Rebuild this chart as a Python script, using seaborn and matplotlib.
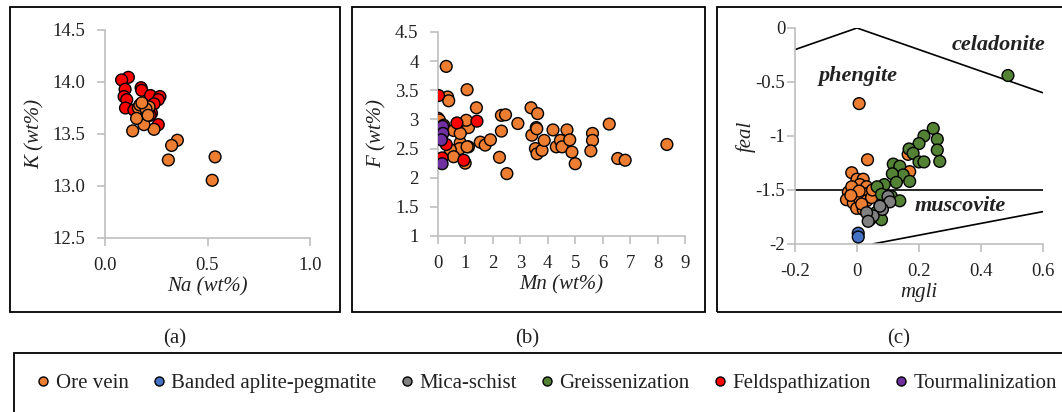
import matplotlib
matplotlib.use('Agg')
import matplotlib.pyplot as plt
from matplotlib.lines import Line2D
from matplotlib.patches import Rectangle
import seaborn as sns
import pandas as pd

# ---- data ----
groups = ['Ore vein', 'Banded aplite-pegmatite', 'Mica-schist',
          'Greissenization', 'Feldspathization', 'Tourmalinization']
colors = ['#ED7D31', '#4472C4', '#808080', '#548235', '#FF0000', '#7030A0']

# (a) Na vs K
a_feld_na = [0.114, 0.081, 0.098, 0.093, 0.106, 0.10, 0.176, 0.179, 0.222, 0.268,
             0.26, 0.239, 0.227, 0.26, 0.141, 0.20, 0.22]
a_feld_k = [14.045, 14.02, 13.93, 13.86, 13.83, 13.75, 13.945, 13.92, 13.87, 13.86,
            13.83, 13.79, 13.70, 13.59, 13.73, 13.72, 13.68]
a_ore_na = [0.537, 0.523, 0.353, 0.325, 0.309, 0.135, 0.239, 0.19, 0.187, 0.163,
            0.215, 0.154, 0.17, 0.20, 0.21, 0.18]
a_ore_k = [13.28, 13.055, 13.44, 13.39, 13.25, 13.53, 13.545, 13.59, 13.71, 13.75,
           13.76, 13.65, 13.78, 13.74, 13.68, 13.80]

# (b) Mn vs F
b_ore_mn = [0.30, 0.35, 0.39, 1.06, 1.40, 0.00, 0.05, 0.21, 0.57, 0.93, 1.11, 0.81,
            0.79, 1.11, 1.06, 0.45, 0.57, 0.99, 1.54, 1.72, 1.91, 2.24, 2.31, 2.31,
            2.46, 2.51, 2.91, 3.39, 3.63, 3.42, 3.58, 3.60, 3.55, 3.61, 3.79, 3.87,
            4.19, 4.31, 4.46, 4.52, 4.70, 4.80, 4.88, 5.00, 5.63, 5.63, 5.57, 6.24,
            6.55, 6.82, 8.34, 1.03, 0.81]
b_ore_f = [3.91, 3.385, 3.32, 3.51, 3.20, 3.02, 2.99, 2.90, 2.81, 2.84, 2.86, 2.60,
           2.50, 2.53, 2.53, 2.48, 2.36, 2.25, 2.61, 2.56, 2.65, 2.35, 2.80, 3.07,
           3.08, 2.07, 2.93, 3.20, 3.10, 2.73, 2.86, 2.84, 2.50, 2.41, 2.47, 2.64,
           2.82, 2.53, 2.64, 2.53, 2.82, 2.65, 2.44, 2.24, 2.76, 2.64, 2.46, 2.92,
           2.33, 2.30, 2.57, 2.985, 2.76]
b_feld_mn = [0.02, 0.69, 1.42, 0.30, 0.15, 0.94]
b_feld_f = [3.41, 2.94, 2.97, 2.57, 2.34, 2.30]
b_tour_mn = [0.17, 0.18, 0.12, 0.15]
b_tour_f = [2.88, 2.76, 2.65, 2.24]

# (c) mgli vs feal
c_ore_mgli = [0.007, 0.034, -0.017, 0.0, 0.02, 0.009, 0.031, 0.036, -0.028, -0.007,
              -0.034, -0.012, 0.009, 0.031, 0.047, -0.001, 0.02, -0.017, 0.170,
              0.165, 0.007, 0.05, -0.02, 0.015]
c_ore_feal = [-0.70, -1.22, -1.34, -1.40, -1.40, -1.45, -1.47, -1.53, -1.52, -1.56,
              -1.59, -1.62, -1.59, -1.60, -1.57, -1.67, -1.68, -1.47, -1.33,
              -1.17, -1.51, -1.50, -1.55, -1.63]
c_gre_mgli = [0.487, 0.246, 0.216, 0.20, 0.259, 0.259, 0.267, 0.168, 0.181, 0.20,
              0.216, 0.117, 0.127, 0.138, 0.149, 0.114, 0.170, 0.127, 0.088, 0.065,
              0.079, 0.111, 0.138, 0.074, 0.061, 0.079, 0.042]
c_gre_feal = [-0.44, -0.93, -1.00, -1.07, -1.03, -1.13, -1.235, -1.12, -1.16, -1.24,
              -1.24, -1.26, -1.34, -1.28, -1.36, -1.35, -1.42, -1.43, -1.45, -1.47,
              -1.54, -1.56, -1.60, -1.65, -1.71, -1.775, -1.775]
c_mica_mgli = [0.10, 0.106, 0.082, 0.074, 0.052, 0.031, 0.036]
c_mica_feal = [-1.56, -1.61, -1.68, -1.65, -1.74, -1.71, -1.79]
c_band_mgli = [0.004, 0.004]
c_band_feal = [-1.90, -1.935]

# field boundaries in (c)
upper_x = [-0.2, 0.0, 0.6]
upper_y = [-0.2, 0.0, -0.6]
mid_x = [-0.2, 0.6]
mid_y = [-1.5, -1.5]
low_x = [0.05, 0.6]
low_y = [-2.0, -1.7]


def frame(x, y, grp):
    return pd.DataFrame({'x': x, 'y': y, 'group': grp})


sns.set_style('white')
plt.rcParams['font.family'] = ['Liberation Serif', 'DejaVu Serif']
plt.rcParams['axes.unicode_minus'] = False

W, H = 1062, 412
fig = plt.figure(figsize=(W / 100, H / 100), dpi=100)


def add_ax(l, r, t, b):
    return fig.add_axes([l / W, 1 - b / H, (r - l) / W, (b - t) / H])


grey = '#BFBFBF'
ink = '#222222'
pal = dict(zip(groups, colors))


def style(ax, xlabel, ylabel, ypad=8.5, ylabpad=6):
    sns.despine(ax=ax)
    for s in ['left', 'bottom']:
        ax.spines[s].set_color(grey)
        ax.spines[s].set_linewidth(1.2)
    ax.tick_params(direction='out', length=5.5, width=1.2, color=grey,
                   labelsize=13.5, pad=8.5, bottom=True, left=True, labelcolor=ink)
    ax.tick_params(axis='y', pad=ypad)
    ax.set_xlabel(xlabel, fontsize=15, style='italic', color=ink, labelpad=2)
    ax.set_ylabel(ylabel, fontsize=15, style='italic', color=ink, labelpad=ylabpad)


kw = dict(x='x', y='y', hue='group', palette=pal, s=72, edgecolor='black',
          linewidth=1.0, legend=False, zorder=3)

# (a)
ax1 = add_ax(105, 310, 30, 238)
df_a = pd.concat([frame(a_feld_na, a_feld_k, 'Feldspathization'),
                  frame(a_ore_na, a_ore_k, 'Ore vein')])
sns.scatterplot(data=df_a, ax=ax1, **kw)
ax1.set_xlim(0, 1)
ax1.set_ylim(12.5, 14.5)
ax1.set_xticks([0, 0.5, 1.0])
ax1.set_xticklabels(['0.0', '0.5', '1.0'])
ax1.set_yticks([12.5, 13.0, 13.5, 14.0, 14.5])
ax1.set_yticklabels(['12.5', '13.0', '13.5', '14.0', '14.5'])
style(ax1, 'Na (wt%)', 'K (wt%)')

# (b)
ax2 = add_ax(438, 685, 32, 236)
df_b = pd.concat([frame(b_ore_mn, b_ore_f, 'Ore vein'),
                  frame(b_feld_mn, b_feld_f, 'Feldspathization'),
                  frame(b_tour_mn, b_tour_f, 'Tourmalinization')])
sns.scatterplot(data=df_b, ax=ax2, **kw)
ax2.set_xlim(0, 9)
ax2.set_ylim(1, 4.5)
ax2.set_xticks(range(10))
ax2.set_yticks([1, 1.5, 2, 2.5, 3, 3.5, 4, 4.5])
ax2.set_yticklabels(['1', '1.5', '2', '2.5', '3', '3.5', '4', '4.5'])
style(ax2, 'Mn (wt%)', 'F (wt%)')

# (c)
ax3 = add_ax(795, 1043, 28, 244)
ax3.plot(upper_x, upper_y, color='black', lw=1.2, zorder=2)
ax3.plot(mid_x, mid_y, color='black', lw=1.2, zorder=2)
ax3.plot(low_x, low_y, color='black', lw=1.2, zorder=2)
df_c = pd.concat([frame(c_ore_mgli, c_ore_feal, 'Ore vein'),
                  frame(c_gre_mgli, c_gre_feal, 'Greissenization'),
                  frame(c_mica_mgli, c_mica_feal, 'Mica-schist'),
                  frame(c_band_mgli, c_band_feal, 'Banded aplite-pegmatite')])
sns.scatterplot(data=df_c, ax=ax3, **kw)
ax3.set_xlim(-0.2, 0.6)
ax3.set_ylim(-2, 0)
ax3.set_xticks([-0.2, 0, 0.2, 0.4, 0.6])
ax3.set_xticklabels(['-0.2', '0', '0.2', '0.4', '0.6'])
ax3.set_yticks([-2, -1.5, -1, -0.5, 0])
ax3.set_yticklabels(['-2', '-1.5', '-1', '-0.5', '0'])
style(ax3, 'mgli', 'feal', ypad=1.5, ylabpad=0)
lab = dict(fontsize=16, style='italic', weight='bold', color=ink,
           ha='center', va='center')
ax3.text(0.457, -0.155, 'celadonite', **lab)
ax3.text(0.004, -0.44, 'phengite', **lab)
ax3.text(0.334, -1.645, 'muscovite', **lab)

# panel frames
for l, r in [(10, 340), (352, 705), (717, 1075)]:
    fig.patches.append(Rectangle((l / W, 1 - 312 / H), (r - l) / W, 305 / H,
                                 transform=fig.transFigure, fill=False,
                                 edgecolor='black', lw=1.3))
fig.patches.append(Rectangle((14 / W, 1 - 425 / H), 1070 / W, 72 / H,
                             transform=fig.transFigure, fill=False,
                             edgecolor='black', lw=1.3))

for txt, xc in [('(a)', 175), ('(b)', 527), ('(c)', 899)]:
    fig.text(xc / W, 1 - 339 / H, txt, fontsize=15, ha='center', va='center',
             color=ink)

handles = [Line2D([], [], marker='o', ls='', markerfacecolor=c,
                  markeredgecolor='black', markeredgewidth=1.0, markersize=6.5)
           for c in colors]
fig.legend(handles, groups, loc='center', bbox_to_anchor=(544 / W, 1 - 383 / H),
           ncol=6, frameon=False, fontsize=15, handletextpad=0.0,
           columnspacing=0.85, handlelength=1.2, labelcolor=ink)

plt.savefig('out.png', dpi=100)
